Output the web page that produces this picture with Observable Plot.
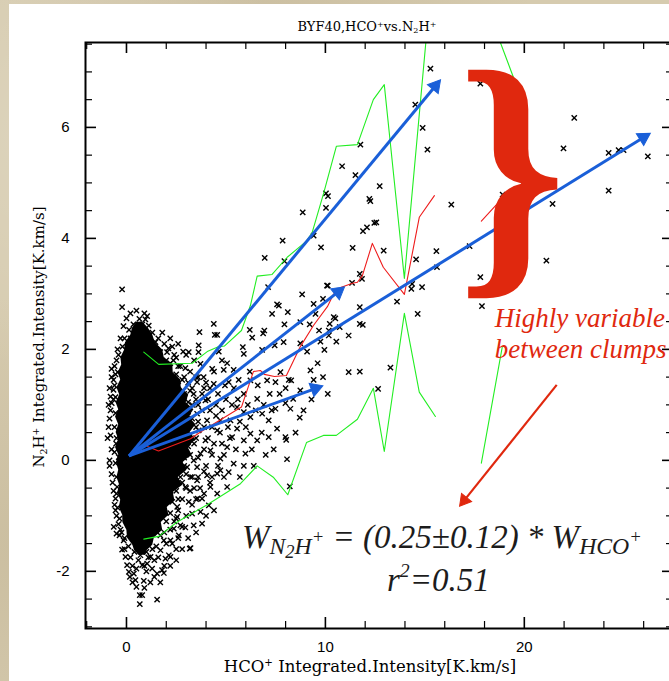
<!DOCTYPE html>
<html><head><meta charset="utf-8">
<script src="https://cdn.jsdelivr.net/npm/d3@7"></script>
<script src="https://cdn.jsdelivr.net/npm/@observablehq/plot@0.6"></script>
<style>
html,body{margin:0;padding:0;width:669px;height:681px;overflow:hidden;}
body{position:relative;background-color:#d6cbaf;
background-image:radial-gradient(circle at 10% 20%, rgba(255,255,255,0.18), transparent 30%),radial-gradient(circle at 40% 5%, rgba(140,120,80,0.15), transparent 35%),radial-gradient(circle at 5% 80%, rgba(150,130,90,0.18), transparent 30%);}
#panel{position:absolute;left:9px;top:4px;width:660px;height:677px;background:#fff;}
#chart{position:absolute;left:0;top:0;width:700px;height:681px;}
.ov{position:absolute;white-space:nowrap;line-height:1;}
.serif{font-family:'DejaVu Serif',serif;color:#000;}
.sp{font-size:0.62em;position:relative;top:-0.55em;}
.sb{font-size:0.62em;position:relative;top:0.3em;}
.eq{font:italic 33px 'Liberation Serif',serif;color:#1c1c1c;}
.s1{font-size:0.72em;position:relative;top:0.24em;}
.s2{font-size:0.78em;position:relative;top:0.25em;}
.p2{font-size:0.78em;position:relative;top:-0.6em;}
.rsup{font-size:0.6em;position:relative;top:-0.7em;}
</style></head><body>
<div id="panel"></div>
<div id="chart"></div>
<div class="ov serif" style="left:367px;top:20px;transform:translateX(-50%);font-size:13px;">BYF40,HCO<span class="sp">+</span>vs.N<span class="sb">2</span>H<span class="sp">+</span></div>
<div class="ov serif" style="left:370px;top:659px;transform:translateX(-50%);font-size:16.5px;">HCO<span class="sp">+</span> Integrated.Intensity[K.km/s]</div>
<div class="ov serif" style="left:39px;top:337px;transform:translate(-50%,-50%) rotate(-90deg);font-size:15px;">N<span class="sb">2</span>H<span class="sp">+</span> Integrated.Intensity[K.km/s]</div>
<div class="ov eq" style="left:242px;top:519px;">W<span class="s1">N<span class="s2">2</span>H<span class="p2">+</span></span> = (0.25±0.12) * W<span class="s1">HCO<span class="p2">+</span></span></div>
<div class="ov eq" style="left:387px;top:562px;">r<span class="rsup">2</span>=0.51</div>
<script>
// ---- data ----
const xMajor = [0, 10, 20];
const xMinor = [-2, 2, 4, 6, 8, 12, 14, 16, 18, 22, 24, 26];
const yMajor = [-2, 0, 2, 4, 6];
const yMinor = [-3, -2.5, -1.5, -1, -0.5, 0.5, 1, 1.5, 2.5, 3, 3.5, 4.5, 5, 5.5, 6.5, 7, 7.5];

// dense core of the point cloud (outline)
const blobY     = [2.49, 2.38, 2.26, 2.12, 1.99, 1.85, 1.72, 1.58, 1.45, 1.31, 1.18, 1.04, 0.91, 0.78, 0.64, 0.50, 0.37, 0.23, 0.10, -0.04, -0.18, -0.31, -0.45, -0.58, -0.72, -0.85, -0.99, -1.12, -1.26, -1.40, -1.53, -1.62, -1.71];
const blobLeft  = [0.52, 0.30, 0.22, -0.05, -0.09, -0.28, -0.24, -0.42, -0.29, -0.48, -0.34, -0.52, -0.39, -0.55, -0.39, -0.52, -0.39, -0.55, -0.39, -0.50, -0.39, -0.48, -0.34, -0.44, -0.29, -0.36, -0.19, -0.18, 0.02, 0.05, 0.32, 0.40, 0.62];
const blobRight = [0.82, 1.10, 1.32, 1.45, 1.82, 1.90, 2.33, 2.35, 2.73, 2.75, 3.13, 3.00, 3.39, 3.15, 3.49, 3.20, 3.49, 3.10, 3.29, 2.85, 3.04, 2.60, 2.83, 2.35, 2.43, 2.05, 2.13, 1.75, 1.82, 1.40, 1.32, 1.05, 0.97];

// individual points (HCO+, N2H+)
const points = [
[-0.22,3.08],[-0.22,2.76],[0.0,2.56],[-0.15,2.42],[0.13,2.35],[1.04,2.60],[0.95,2.54],[1.12,2.43],[0.87,2.34],[0.40,2.25],[1.46,2.13],[0.0,1.98],[2.11,2.02],[2.04,1.95],[2.85,1.96],[3.13,1.95],[3.67,2.31],[3.62,1.95],[2.36,1.80],[2.96,1.66],[-0.44,1.59],[-0.65,1.27],[-0.74,1.03],[-0.55,1.14],[-0.52,0.30],[-0.39,0.06],
[4.44,2.26],[4.56,2.26],[4.64,1.96],[5.85,2.04],[6.20,2.35],[6.32,2.21],[6.87,2.29],[6.93,2.34],[7.57,2.81],[7.66,2.79],[7.32,2.64],[8.11,2.67],[7.94,2.45],[8.83,2.99],[10.12,3.15],[9.41,2.82],[9.50,2.64],[8.74,2.49],[9.21,2.45],[9.68,2.34],[10.22,2.46],[10.50,2.56],[10.17,2.34],[9.75,2.14],[10.17,2.25],[10.55,2.14],[11.17,2.25],[10.72,2.40],[8.74,2.11],[9.08,1.96],[9.95,1.99],[7.90,2.13],[7.45,2.07],[6.82,1.99],[5.90,1.92],[5.06,1.75],[5.39,1.63],[4.89,1.63],[4.31,1.65],[3.88,1.50],[3.55,1.41],[4.39,1.38],[5.14,1.41],[5.64,1.45],[6.23,1.44],[7.07,1.44],[7.49,1.41],[7.74,1.59],[8.16,1.45],[8.28,1.44],[9.25,1.62],[9.61,1.75],[9.88,1.50],[9.41,1.45],[10.12,1.20],[8.74,1.26],[8.38,1.11],[7.99,1.03],[7.49,0.93],[8.24,0.93],[8.71,0.77],[7.15,0.72],[7.57,0.57],[7.99,0.42],[8.03,0.37],[7.15,0.42],[8.07,0.02],[6.57,1.11],[6.82,0.84],[6.23,0.78],[5.90,0.87],[5.56,0.96],[6.23,0.48],[6.57,0.36],[5.90,0.36],[5.56,0.57],[5.23,0.72],[4.72,0.72],[4.56,0.54],[5.31,0.42],[5.06,0.24],[4.72,0.03],[5.39,-0.06],[5.98,0.12],[4.72,-0.18],[4.05,-0.27],[4.56,-0.24],[3.72,1.74],[3.38,1.20],[3.97,1.08],[3.55,0.84],[4.05,0.72],[3.63,0.54],[3.97,0.36],[4.22,0.18],[3.72,0.12],[3.55,-0.12],[4.39,2.46],[3.63,2.07],
[7.40,0.20],[8.21,-0.47],[5.06,-0.48],[4.56,-0.60],[4.22,-0.48],[4.14,-0.81],[3.72,-0.93],[3.30,-0.96],[3.13,-0.75],[3.58,-0.69],[3.80,-1.14],[3.38,-1.17],[2.96,-1.21],[2.63,-1.35],[3.18,-1.59],[5.14,-0.21],[3.55,-0.36],[2.55,-1.02],[2.21,-1.44],[2.13,-1.71],[1.71,-1.62],[1.54,-2.04],[1.79,-1.98],[1.04,-1.86],[0.79,-1.89],[0.70,-1.71],[0.37,-2.04],[0.12,-2.01],[0.17,-2.10],[0.45,-2.16],[0.87,-2.17],[0.50,-2.28],[0.67,-2.43],[0.79,-2.43],[0.67,-2.59],[1.54,-2.51],[-0.22,-1.61],[-0.55,-0.69],[-0.47,-0.48],[-0.05,-1.74],[0.03,-1.89],[1.29,-1.95],[1.21,-1.74],[1.96,-1.77],[2.21,-1.74],[1.88,-1.44],[2.38,-1.23],[2.71,-1.17],[2.55,-0.84],[2.21,-0.54],[2.96,-0.48],[3.22,-0.30],[2.71,-0.30],[3.38,0.00],[3.05,-0.12],[-0.14,-1.44],[-0.64,-1.20],[-0.50,-1.32],[1.88,-2.03],[3.22,-1.58],[3.80,-0.69],
[10.84,5.30],[11.51,5.14],[10.03,4.81],[10.13,4.76],[10.03,4.55],[8.86,4.47],[11.76,5.69],[15.28,7.06],[17.79,6.79],[14.52,6.41],[14.89,5.99],[15.13,5.60],[12.73,4.94],[12.21,4.71],[12.26,4.67],[9.41,4.05],[9.78,3.84],[12.56,4.29],[12.46,4.28],[11.89,4.13],[12.09,4.20],[11.37,3.83],[12.93,3.78],[11.73,3.36],[11.84,3.27],[11.34,3.20],[10.08,3.15],[9.88,2.91],[11.73,2.76],[10.42,2.58],[13.60,2.86],[14.36,3.18],[14.32,3.09],[14.86,3.12],[14.56,3.62],[15.58,3.77],[15.61,3.48],[14.64,2.64],[16.33,4.61],[17.25,3.86],[17.79,3.30],[17.87,2.78],[18.91,4.79],[20.19,5.00],[21.42,4.62],[21.11,3.60],[21.97,5.62],[22.51,6.17],[24.24,5.54],[24.74,5.59],[24.99,5.59],[26.21,5.48],[24.24,4.86],[11.73,2.46],[11.88,2.44],[11.17,1.59],[11.73,1.60],[13.27,1.67],[12.65,1.29],[7.85,3.96],[6.95,3.65],[7.94,3.59],[7.12,3.12],
[-0.85,1.30],[-0.80,0.90],[-0.90,0.60],[-0.75,0.20],[-0.85,-0.10],[-0.70,-0.40],[-0.60,-0.80],[-0.50,-1.00],[-0.35,-1.35],[-0.75,1.50],[-0.60,1.70],[-0.40,1.90],[-0.20,2.05],[-0.90,1.00],[-0.95,0.40],
[2.90,1.20],[3.10,0.80],[3.30,1.00],[3.00,0.50],[3.40,0.30],[3.20,0.10],[2.90,-0.10],[3.30,-0.30],[3.00,-0.50],[2.80,-0.70],[2.60,-0.90],[2.40,-1.10],[2.20,-1.25],[3.60,0.70],[3.80,0.90],[4.10,1.10],[4.30,0.60],[3.90,0.20],[4.40,0.30],[4.00,-0.10],[3.70,-0.50],[4.20,-0.40],[3.50,-0.70],[2.90,1.50],[3.20,1.60],[2.60,1.70],[2.40,1.90],[3.50,1.50],[3.90,1.30],[4.60,1.20],[4.80,0.90],[5.00,1.10],[5.20,0.40],[5.50,0.20],[4.90,0.10],[5.70,0.70],[6.00,0.60],[6.50,0.90],[6.90,1.00],[7.20,1.20],[5.40,1.30],[6.20,1.60],[5.90,1.20],[4.40,1.60],[4.80,1.80],[2.30,-1.50],[1.90,-1.90],[2.50,-1.60],[1.20,-2.20],[0.30,-1.90],[-0.10,-1.60],[0.90,-1.90],[1.60,-1.75],
[1.50,2.00],[1.90,2.10],[2.30,2.05],[1.70,1.95],[2.00,1.80],[2.50,1.85],[2.20,1.75],[2.70,1.70],[2.50,1.55],[2.80,1.45],[3.10,1.40],[2.60,1.35],[3.30,1.30],[2.90,1.15],[3.20,1.25],[3.10,1.05],[3.50,1.10],[2.80,0.95],[3.00,0.85],[3.30,0.75],[3.00,0.65],[3.50,0.60],[3.20,0.45],[2.90,0.35],[3.10,0.25],[3.50,0.40],[2.90,0.05],[3.60,0.05],[2.70,-0.15],[3.00,-0.25],[2.80,-0.40],[3.20,-0.55],[2.50,-0.55],[2.30,-0.75],[2.60,-0.70],[2.20,-0.95],[2.50,-1.05],[2.00,-1.10],[1.90,-1.30],[1.70,-1.35],[2.00,-1.50],[1.50,-1.55],[1.30,-1.60],[1.00,-1.65],[0.80,-1.60],[0.40,-1.65],[0.10,-1.55],[0.60,-1.80],[1.40,-1.80],
[-0.75,1.65],[-0.65,1.45],[-0.80,1.15],[-0.85,0.75],[-0.80,0.45],[-0.85,0.00],[-0.75,-0.25],[-0.65,-0.55],[-0.55,-0.90],[-0.40,-1.15],[-0.25,-1.30],
[0.20,2.20],[0.50,2.30],[0.70,2.15],[1.00,2.25],[0.30,2.05],[-0.10,2.20],[0.60,2.40],[1.20,2.10],[1.30,2.30],[0.80,2.45],
[3.60,1.50],[3.80,1.20],[4.00,1.40],[4.20,0.90],[3.90,0.60],[4.10,0.40],[4.30,0.10],[3.90,-0.20],[4.30,-0.30],[3.60,-0.30],[3.40,-0.50],[3.90,-0.60],[3.30,-0.80],[3.00,-1.00],[2.80,-1.20],[2.60,-1.40],[3.60,1.00],[4.50,0.80],[4.70,0.50],[4.50,1.00],[4.20,1.30],[3.40,1.80],[3.00,1.90],[2.60,2.10],[2.20,2.20],[1.80,2.30],[1.60,2.20],[4.60,-0.10],[4.90,-0.30],[4.40,-0.90],[4.00,-1.00],[3.50,-1.30],[3.10,-1.40],[2.80,-1.60],[2.50,-1.80],[2.20,-1.90],[4.80,0.30],[5.10,0.60],[5.30,1.00],[4.95,1.35],[5.60,1.10],[6.10,1.00],[6.30,0.20],[6.80,0.50],[7.00,0.10],[6.40,-0.10],[5.70,-0.30],[5.90,-0.10],[7.30,0.90],[7.70,1.20],[6.60,1.35],[8.50,0.50],[8.90,0.90],[9.30,1.10],[8.00,1.30],
[-0.50,1.80],[-0.55,1.55],[-0.60,1.35],[-0.65,1.10],[-0.55,0.85],[-0.60,0.60],[-0.50,0.40],[-0.60,0.15],[-0.55,-0.05],[-0.50,-0.30],[-0.50,-0.60],[-0.45,-0.85],[-0.35,-1.05],[-0.30,-1.25],[-0.10,-1.40],[-0.45,2.00],[-0.30,2.20],
[0.20,-1.75],[0.50,-1.95],[1.00,-2.00],[1.40,-2.10],[0.90,-2.30],[0.30,-2.20],[1.10,-1.75],[1.70,-2.20],
[0.35,2.45],[0.65,2.55],[0.90,2.65],[0.20,2.65],[0.50,2.70]
];

// envelope (green) and mean (red) curves
const greenUpperX = [0.87, 1.62, 3.30, 4.06, 4.56, 4.92, 5.78, 6.23, 6.57, 7.32, 8.08, 9.05, 9.33, 9.91, 10.55, 11.61, 12.41, 12.96, 13.97, 15.78, 19.55];
const greenUpperY = [1.95, 1.73, 1.75, 1.96, 2.04, 2.06, 2.34, 2.79, 3.32, 3.35, 3.66, 3.95, 4.10, 4.81, 5.66, 5.69, 6.50, 6.77, 3.28, 10.41, 6.81];
const greenLowerX = [0.87, 1.62, 2.55, 4.06, 5.73, 6.57, 7.40, 8.11, 9.05, 9.90, 10.55, 11.61, 12.41, 12.96, 13.97, 14.72, 15.53];
const greenLowerY = [-1.42, -1.37, -1.11, -0.80, -0.42, -0.10, -0.31, -0.62, 0.32, 0.45, 0.45, 0.74, 1.30, 0.16, 2.65, 1.23, 0.79];
const greenLower2X = [17.84, 18.89];
const greenLower2Y = [-0.05, 2.04];
const redX = [1.06, 1.61, 3.22, 3.72, 5.78, 6.38, 6.73, 6.93, 7.44, 8.04, 8.74, 9.40, 10.10, 10.40, 10.80, 11.36, 11.61, 11.86, 12.36, 12.91, 13.97, 14.72, 15.48];
const redY = [0.25, 0.17, 0.39, 0.51, 0.96, 1.60, 1.62, 1.55, 1.51, 1.53, 2.05, 2.43, 2.77, 2.99, 3.12, 3.19, 3.21, 3.33, 3.91, 3.48, 2.99, 4.38, 4.77];
const red2X = [17.84, 18.89];
const red2Y = [4.31, 4.72];

// fitted slopes drawn as arrows from the origin
const arrowEndX = [15.77, 26.31, 10.94, 9.85];
const arrowEndY = [6.85, 5.89, 3.12, 1.34];
const arrowStart = [0.13, 0.08];

// annotations
const braceAt = [19.37, 5.18];
const noteLines = ["Highly variable", "between clumps"];
const noteX = [18.52, 18.52];
const noteY = [2.40, 1.84];
const redArrowFrom = [21.63, 1.36];
const redArrowTo = [16.76, -0.82];

// ---- build ----
const xDom = [-2.06, 27.5], yDom = [-3.03, 7.53];
const W = 700, H = 681, mL = 85, mR = 27, mT = 42, mB = 53;
const iW = W - mL - mR, iH = H - mT - mB;
const sx = iW / (xDom[1] - xDom[0]), sy = iH / (yDom[1] - yDom[0]);
const green = "#22ee22", red = "#ee1c1c", blue = "#1a5fd8", annRed = "#e0280e";

const zip = (xs, ys) => xs.map((x, i) => ({x, y: ys[i]}));
const blob = blobY.map((y, i) => ({y, x1: blobLeft[i], x2: blobRight[i]}));
const pts = points.map(([x, y]) => ({x, y}));
function arrowGeom(x1, y1, x2, y2, back) {
  const ux = (x2 - x1) * sx, uy = (y2 - y1) * sy, L = Math.hypot(ux, uy);
  const cx = x2 - back * ux / L / sx, cy = y2 - back * uy / L / sy;
  const rot = Math.atan2(-uy, ux) * 180 / Math.PI + 90;
  return {x1, y1, x2: cx, y2: cy, cx, cy, rot};
}
const blueArrows = arrowEndX.map((x, i) => arrowGeom(arrowStart[0], arrowStart[1], x, arrowEndY[i], 7.5));
const redArrows = [arrowGeom(redArrowFrom[0], redArrowFrom[1], redArrowTo[0], redArrowTo[1], 7)];
const notes = noteLines.map((t, i) => ({t, x: noteX[i], y: noteY[i]}));

const plot = Plot.plot({
  width: W, height: H,
  marginLeft: mL, marginRight: mR, marginTop: mT, marginBottom: mB,
  x: {domain: xDom},
  y: {domain: yDom},
  style: {background: "transparent", maxWidth: "none", fontFamily: "'Liberation Sans', Arial, sans-serif", fontSize: "15px", color: "black", overflow: "visible"},
  marks: [
    Plot.areaX(blob, {y: "y", x1: "x1", x2: "x2", fill: "black"}),
    Plot.dot(pts, {x: "x", y: "y", symbol: "times", r: 2.5, stroke: "black", strokeWidth: 1.4}),
    Plot.line(zip(greenUpperX, greenUpperY), {x: "x", y: "y", stroke: green, strokeWidth: 1.1, clip: true}),
    Plot.line(zip(greenLowerX, greenLowerY), {x: "x", y: "y", stroke: green, strokeWidth: 1.1}),
    Plot.line(zip(greenLower2X, greenLower2Y), {x: "x", y: "y", stroke: green, strokeWidth: 1.1}),
    Plot.line(zip(redX, redY), {x: "x", y: "y", stroke: red, strokeWidth: 1.1}),
    Plot.line(zip(red2X, red2Y), {x: "x", y: "y", stroke: red, strokeWidth: 1.1}),
    Plot.link(blueArrows, {x1: "x1", y1: "y1", x2: "x2", y2: "y2", stroke: blue, strokeWidth: 3}),
    Plot.dot(blueArrows, {x: "cx", y: "cy", symbol: "triangle", r: 5.2, fill: blue, stroke: blue, strokeWidth: 1, rotate: "rot"}),
    Plot.frame({strokeWidth: 2}),
    Plot.ruleX(xMajor, {insetTop: iH - 11, strokeWidth: 1.6}),
    Plot.ruleX(xMajor, {insetBottom: iH - 11, strokeWidth: 1.6}),
    Plot.ruleX(xMinor, {insetTop: iH - 7, strokeWidth: 1.2}),
    Plot.ruleX(xMinor, {insetBottom: iH - 7, strokeWidth: 1.2}),
    Plot.ruleY(yMajor, {insetRight: iW - 11, strokeWidth: 1.6}),
    Plot.ruleY(yMajor, {insetLeft: iW - 11, strokeWidth: 1.6}),
    Plot.ruleY(yMinor, {insetRight: iW - 7, strokeWidth: 1.2}),
    Plot.ruleY(yMinor, {insetLeft: iW - 7, strokeWidth: 1.2}),
    Plot.axisX(xMajor, {tickSize: 0, tickPadding: 13, label: null, fontSize: 15}),
    Plot.axisY(yMajor, {tickSize: 0, tickPadding: 16, label: null, fontSize: 15, tickFormat: d => String(d)}),
    Plot.text([braceAt], {x: d => d[0], y: d => d[1], text: () => "}", fontSize: 276, fontWeight: "bold", fontFamily: "'Liberation Serif', serif", fill: annRed, textAnchor: "middle", lineAnchor: "middle"}),
    Plot.text(notes, {x: "x", y: "y", text: "t", fontSize: 27, fontStyle: "italic", fontFamily: "'Liberation Serif', serif", fill: annRed, textAnchor: "start", lineAnchor: "bottom"}),
    Plot.link(redArrows, {x1: "x1", y1: "y1", x2: "x2", y2: "y2", stroke: annRed, strokeWidth: 2.2}),
    Plot.dot(redArrows, {x: "cx", y: "cy", symbol: "triangle", r: 4.8, fill: annRed, stroke: annRed, strokeWidth: 1, rotate: "rot"})
  ]
});
document.getElementById("chart").appendChild(plot);
</script>
</body></html>
